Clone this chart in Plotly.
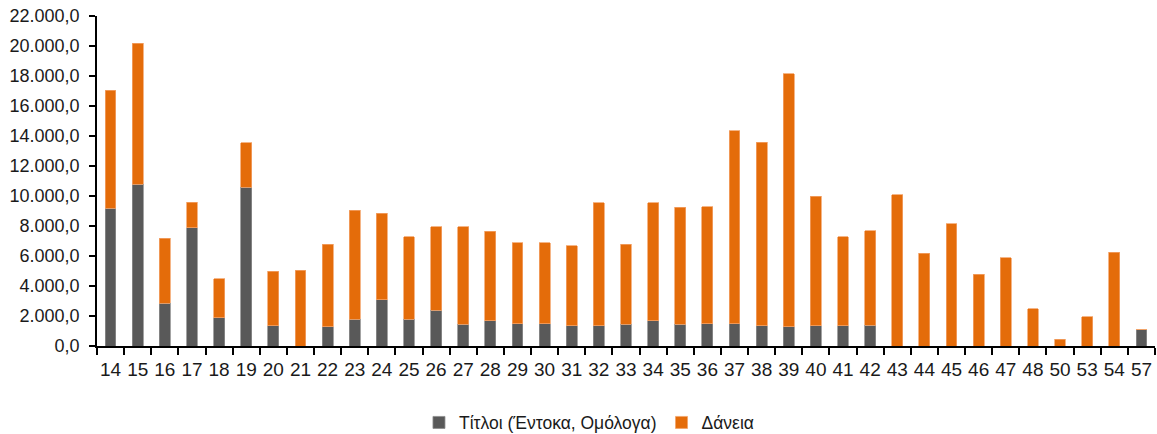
import plotly.graph_objects as go

categories = ["14", "15", "16", "17", "18", "19", "20", "21", "22", "23", "24", "25", "26",
              "27", "28", "29", "30", "31", "32", "33", "34", "35", "36", "37", "38", "39",
              "40", "41", "42", "43", "44", "45", "46", "47", "48", "50", "53", "54", "57"]

totals = [17050, 20200, 7200, 9600, 4500, 13550, 5000, 5050, 6800, 9050, 8850, 7300, 7950,
          7950, 7650, 6900, 6900, 6700, 9550, 6800, 9550, 9250, 9300, 14350, 13600, 18150,
          10000, 7300, 7700, 10100, 6200, 8150, 4800, 5900, 2500, 450, 1950, 6250, 1100]

titloi = [9200, 10800, 2850, 7900, 1900, 10600, 1350, 0, 1300, 1800, 3100, 1800, 2400,
          1450, 1700, 1500, 1500, 1350, 1350, 1450, 1700, 1450, 1500, 1500, 1350, 1300,
          1350, 1350, 1400, 0, 0, 0, 0, 0, 0, 0, 0, 0, 1100]

daneia = [t - s for t, s in zip(totals, titloi)]

series_names = ["Τίτλοι (Έντοκα, Ομόλογα)", "Δάνεια"]
colors = ["#595959", "#E46C0A"]
edge_colors = ["#8C8C8C", "#F2A368"]

fig = go.Figure()
for name, vals, col, edge in zip(series_names, [titloi, daneia], colors, edge_colors):
    fig.add_trace(go.Bar(
        x=categories, y=vals, name=name,
        marker=dict(color=col, line=dict(color=edge, width=0.8)),
    ))

font_family = "Liberation Sans, Arial, sans-serif"
fig.update_layout(
    barmode="stack",
    bargap=0.6,
    width=1157, height=434,
    margin=dict(l=97, r=2, t=16, b=88, autoexpand=False),
    paper_bgcolor="white",
    plot_bgcolor="white",
    separators=",.",
    font=dict(family=font_family, size=18, color="#1a1a1a"),
    showlegend=True,
    legend=dict(
        orientation="h",
        x=0.465, xanchor="center",
        y=-0.232, yanchor="middle",
        font=dict(size=17.5),
        traceorder="normal",
        itemwidth=30,
    ),
    xaxis=dict(
        type="category",
        showline=True, linecolor="black", linewidth=1.5,
        ticks="outside", tickson="boundaries", ticklen=7, tickcolor="black", tickwidth=1.5,
        ticklabelstandoff=5,
        showgrid=False,
        tickangle=0,
        automargin=False,
        tickfont=dict(size=19),
    ),
    yaxis=dict(
        range=[0, 22000],
        tickvals=list(range(0, 22001, 2000)),
        tickformat=",.1f",
        showline=True, linecolor="black", linewidth=1.5,
        ticks="outside", ticklen=6, tickcolor="black", tickwidth=1.5,
        ticklabelstandoff=6,
        showgrid=False, zeroline=False,
        automargin=False,
        tickfont=dict(size=18),
    ),
)

fig.write_html("out.html", config={"displayModeBar": False},
               post_script="document.body.style.margin='0';")
